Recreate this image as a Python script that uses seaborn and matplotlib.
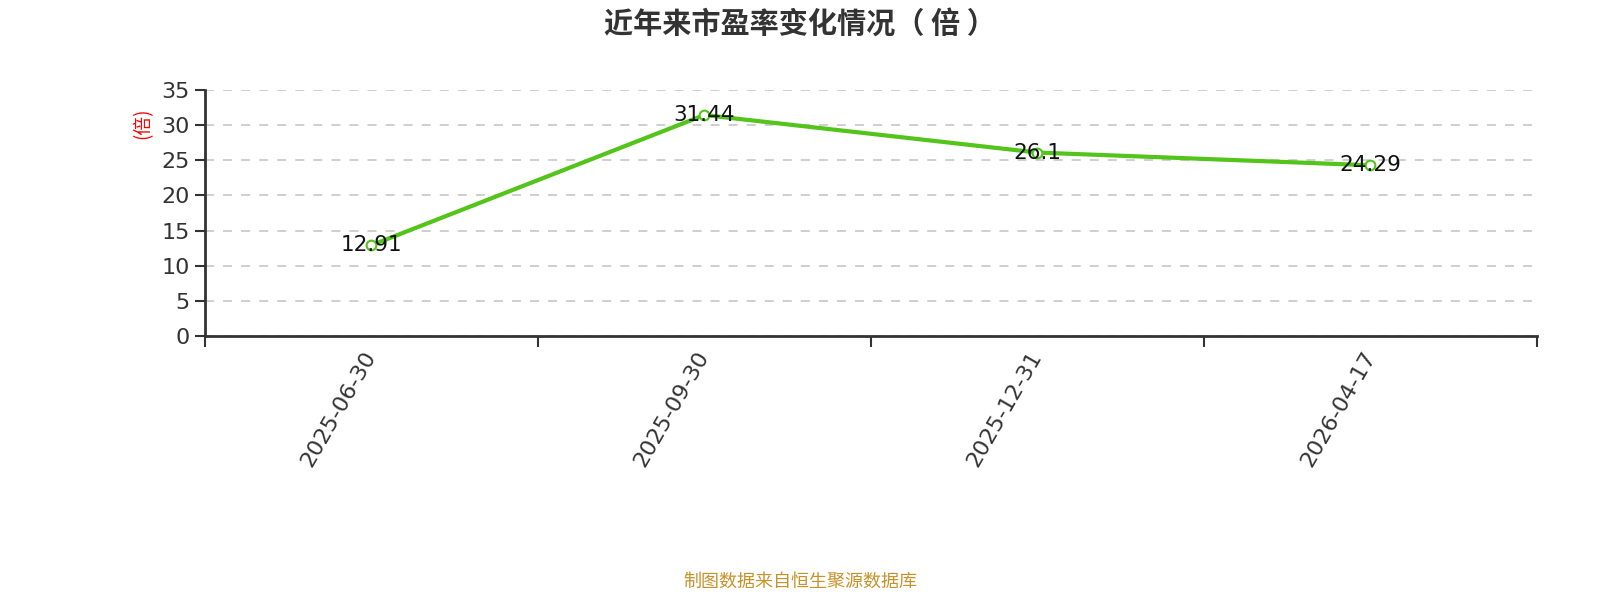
import matplotlib
matplotlib.use("Agg")
import matplotlib.pyplot as plt
import seaborn as sns
import pandas as pd
from matplotlib.ticker import FixedLocator

# DATA
dates = ["2025-06-30", "2025-09-30", "2025-12-31", "2026-04-17"]
pe_values = [12.91, 31.44, 26.1, 24.29]
pe_labels = ["12.91", "31.44", "26.1", "24.29"]
y_ticks = [0, 5, 10, 15, 20, 25, 30, 35]

df = pd.DataFrame({"date": dates, "pe": pe_values})
df["pos"] = range(len(dates))

sns.set_style("white")
plt.rcParams["font.family"] = ["DejaVu Sans", "Noto Sans CJK SC"]
cjk = ["Noto Sans CJK SC", "DejaVu Sans"]

fig = plt.figure(figsize=(16, 6), dpi=100)
ax = fig.add_axes([0.128, 0.44, 0.8326, 0.41])

sns.lineplot(data=df, x="pos", y="pe", ax=ax, color="#52c41a", linewidth=3,
             marker="o", markersize=7, markerfacecolor="white",
             markeredgecolor="#52c41a", markeredgewidth=1.5)

for x, y, t in zip(df["pos"], pe_values, pe_labels):
    ax.text(x, y, t, ha="center", va="center", fontsize=15.5, color="#111111")

ax.set_xlim(-0.5, len(dates) - 0.5)
ax.set_ylim(0, 35)
ax.set_yticks(y_ticks)
ax.set_xticks(list(df["pos"]))
ax.set_xticklabels(dates, rotation=60, ha="right", va="center",
                   rotation_mode="anchor", fontsize=16, color="#333333")
ax.xaxis.set_minor_locator(FixedLocator([i - 0.5 for i in range(len(dates) + 1)]))
ax.tick_params(axis="x", which="both", bottom=True)
ax.tick_params(axis="x", which="major", length=0, pad=12)
ax.tick_params(axis="x", which="minor", length=8, width=1.5, color="#333333")
ax.tick_params(axis="y", left=True, length=7, width=1.5, color="#333333",
               labelsize=16, labelcolor="#333333", pad=4)

ax.yaxis.grid(True, linestyle=(0, (5, 5)), color="#cccccc", linewidth=1.3)
ax.xaxis.grid(False)
for s in ["top", "right"]:
    ax.spines[s].set_visible(False)
for s in ["left", "bottom"]:
    ax.spines[s].set_color("#333333")
    ax.spines[s].set_linewidth(2)

ax.set_xlabel("")
ax.set_ylabel("")
fig.text(0.089, 0.795, "(倍)", rotation=90, color="red", fontsize=13.5,
         ha="center", va="center", family=cjk)

fig.suptitle("近年来市盈率变化情况（ 倍 ）", y=0.985, fontsize=21,
             fontweight="bold", color="#333333", family=cjk)
fig.text(0.5, 0.015, "制图数据来自恒生聚源数据库", ha="center", va="bottom",
         fontsize=13, color="#c8922a", family=cjk)

fig.savefig("out.png", dpi=100)
